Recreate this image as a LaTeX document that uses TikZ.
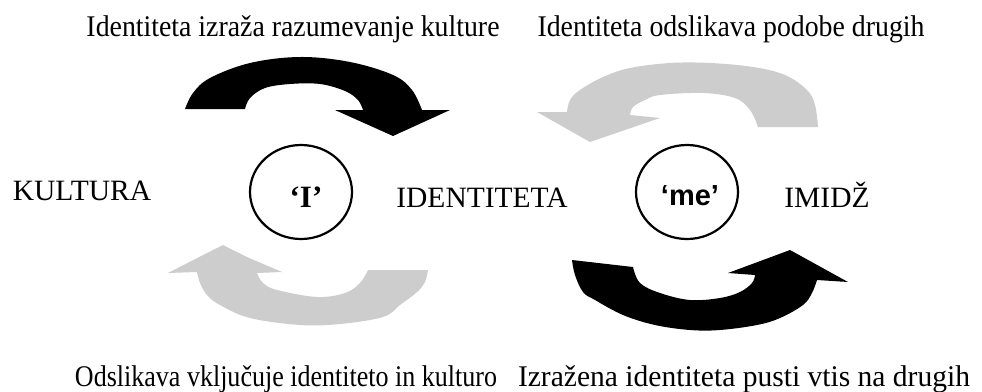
\documentclass[tikz,border=0pt]{standalone}
\usepackage{fontspec}
\setmainfont{Liberation Serif}
\newfontfamily\headsans{Liberation Sans}
\usetikzlibrary{shapes.geometric}
\definecolor{arrowgray}{RGB}{205,205,205}
% squeeze or stretch a text horizontally to a given width, keeping its height
\newcommand\stretchto[2]{\resizebox{#1}{\height}{#2}}

\begin{document}
\begin{tikzpicture}[x=1pt,y=-1pt,
  caption/.style={font=\fontsize{30}{30}\selectfont, anchor=base, inner sep=0pt},
  bigword/.style={font=\fontsize{29.5}{30}\selectfont, anchor=base, inner sep=0pt},
  ring/.style={draw, ellipse, line width=2.2pt, minimum width=102pt, minimum height=94pt, inner sep=0pt},
  darkarrow/.style={fill=black},
  lightarrow/.style={fill=arrowgray}]
\useasboundingbox (0,0) rectangle (982,391);
\fill[white] (0,0) rectangle (982,391);

% captions above and below
\node[caption] (capTL) at (293,36) {\stretchto{413pt}{Identiteta izraža razumevanje kulture}};
\node[caption] (capTR) at (731,36) {\stretchto{387pt}{Identiteta odslikava podobe drugih}};
\node[caption] (capBL) at (286,386) {\stretchto{422pt}{Odslikava vključuje identiteto in kulturo}};
\node[caption] (capBR) at (744,386) {\stretchto{452pt}{Izražena identiteta pusti vtis na drugih}};

% the three main words
\node[bigword] (kultura) at (82,200) {KULTURA};
\node[bigword] (identiteta) at (482,207) {IDENTITETA};
\node[bigword] (imidz) at (827,207) {IMIDŽ};

% the two circled selves
\node[ring] (ringI) at (301,192) {};
\node[bigword, font=\fontsize{31}{31}\selectfont\bfseries] (selfI) at (306,207) {‘I’};
\node[ring] (ringMe) at (687,192) {};
\node[bigword, font=\fontsize{29}{29}\selectfont\headsans\bfseries] (selfMe) at (690,205) {‘me’};

% upper left: black arrow curving right
\path[darkarrow] (185,109)
  -- plot[smooth, tension=0.6] coordinates {(185,109) (193,93) (210,78) (250,63) (300,57) (350,62) (393,75) (412,90) (422,110)}
  -- (450,110) -- (393,136) -- (335,110) -- (363,110)
  -- plot[smooth, tension=0.6] coordinates {(363,110) (358,100) (345,91) (320,84) (290,84) (265,88) (250,98) (245,109)}
  -- cycle;

% upper right: grey arrow curving left
\path[lightarrow] (818,127)
  -- plot[smooth, tension=0.6] coordinates {(818,127) (815,105) (807,90) (785,75) (753,67) (710,63) (670,63) (630,68) (603,77) (580,90) (570,100) (567,112)}
  -- (537,112) -- (590,142) -- (660,118) -- (630,115)
  -- plot[smooth, tension=0.6] coordinates {(630,115) (633,107) (645,100) (660,95) (703,93) (735,98) (750,110) (758,127)}
  -- cycle;

% lower left: grey arrow turning up on the left
\path[lightarrow] (223,245) -- (247,257) -- (282,272) -- (257,273)
  -- plot[smooth, tension=0.6] coordinates {(257,273) (263,283) (277,290) (317,297) (345,293) (360,283) (368,270)}
  -- (428,270)
  -- plot[smooth, tension=0.6] coordinates {(428,270) (425,282) (417,292) (400,305) (383,317) (340,324) (300,325) (250,318) (220,305) (207,295) (200,283) (197,272)}
  -- (168,273) -- (207,253) -- cycle;

% lower right: black arrow turning up on the right
\path[darkarrow] (572,260) -- (633,267)
  -- plot[smooth, tension=0.6] coordinates {(633,267) (640,283) (660,293) (690,300) (720,298) (740,292) (752,283) (755,275)}
  -- (728,273) -- (790,250) -- (848,282) -- (817,280)
  -- plot[smooth, tension=0.6] coordinates {(817,280) (812,293) (803,305) (780,318) (757,325) (720,330) (690,330) (655,325) (623,315) (595,300) (583,292) (575,275) (572,260)}
  -- cycle;
\end{tikzpicture}
\end{document}
